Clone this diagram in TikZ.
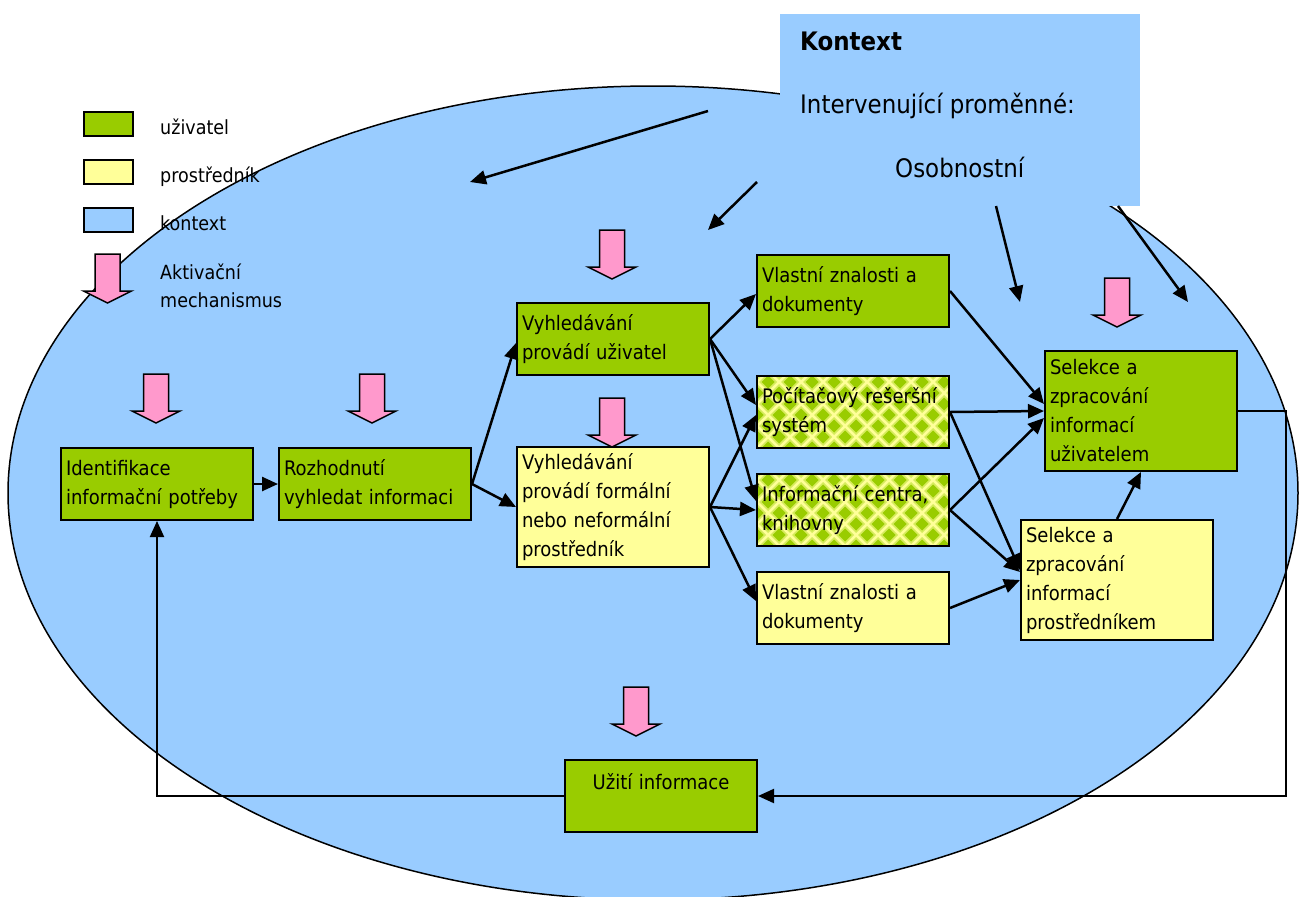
\documentclass[tikz,border=0pt]{standalone}
\usepackage{fontspec}
\setmainfont{DejaVu Sans}[FakeStretch=0.9]
\usetikzlibrary{
  arrows.meta,
  positioning,
  calc
}
\definecolor{ifUser}{HTML}{99CC00}
\definecolor{ifMid}{HTML}{FFFF99}
\definecolor{ifCtx}{HTML}{99CCFF}
\definecolor{ifAct}{HTML}{FF99CC}
\newcommand{\boxfont}{\fontsize{20}{29}\selectfont}
\newcommand{\legfont}{\fontsize{19.5}{28}\selectfont}
\newcommand{\ctxfont}{\fontsize{25.5}{30}\selectfont}
\tikzset{
  ifnode/.style={
    draw, line width=2pt, minimum width=192pt, minimum height=72pt,
    text width=182pt, inner xsep=5pt, inner ysep=4pt, align=left,
    font=\boxfont, anchor=north west
  },
  userbox/.style={ifnode, fill=ifUser},
  midbox/.style={ifnode, fill=ifMid},
  tallbox/.style={minimum height=120pt},
  checkerbox/.style={ifnode, fill=ifMid,
    path picture={
      \foreach \j in {0,...,7}{
        \foreach \i in {0,...,9}{
          \pgfmathsetmacro{\ckx}{\i*22+11-mod(\j,2)*11}
          \pgfmathsetmacro{\cky}{\j*11}
          \fill[ifUser!40!ifMid] ([shift={(\ckx pt,\cky pt)}]path picture bounding box.south west)
            +(-9pt,0pt) -- +(0pt,9pt) -- +(9pt,0pt) -- +(0pt,-9pt) -- cycle;
          \fill[ifUser] ([shift={(\ckx pt,\cky pt)}]path picture bounding box.south west)
            +(-6.5pt,0pt) -- +(0pt,6.5pt) -- +(6.5pt,0pt) -- +(0pt,-6.5pt) -- cycle;
        }
      }
    }
  },
  legbox/.style={draw, line width=2pt, minimum width=49pt, minimum height=24pt,
    inner sep=0pt, anchor=north west},
  legtext/.style={font=\legfont, anchor=base west, inner sep=0pt},
  ctxtext/.style={font=\ctxfont, anchor=base west, inner sep=0pt},
  flow/.style={-{Triangle[length=16pt, width=14pt]}, line width=2.5pt},
  loopline/.style={-{Triangle[length=16pt, width=14pt]}, line width=2pt},
  aktiv/.pic={
    \draw[line width=1.5pt, fill=ifAct] (-12.5,0) -- (12.5,0) -- (12.5,37) -- (24,37)
      -- (0,49) -- (-24,37) -- (-12.5,37) -- cycle;
  }
}

\begin{document}
\begin{tikzpicture}[x=1pt, y=-1pt]
  \useasboundingbox (0,0) rectangle (1299,897);

  % context ellipse and context box
  \draw[line width=1.5pt, fill=ifCtx] (653,493) ellipse [x radius=645, y radius=407];
  \node[fill=ifCtx, minimum width=360pt, minimum height=192pt, inner sep=0pt,
    anchor=north west] (kontext) at (780,14) {};
  \node[ctxtext, font=\ctxfont\bfseries] (ktitle) at (800,50) {Kontext};
  \node[ctxtext] (kvar) at (800,113) {Intervenující proměnné:};
  \node[ctxtext] (kosob) at (895,177) {Osobnostní};

  % legend
  \node[legbox, fill=ifUser] (leguser) at (83,111) {};
  \node[legbox, fill=ifMid] (legmid) at (83,159) {};
  \node[legbox, fill=ifCtx] (legctx) at (83,207) {};
  \pic (legakt) at (107.5,254) {aktiv};
  \node[legtext] (tuser) at (160,134) {uživatel};
  \node[legtext] (tmid) at (160,182) {prostředník};
  \node[legtext] (tctx) at (160,230) {kontext};
  \node[legtext] (takt) at (160,279) {Aktivační};
  \node[legtext] (tmech) at (160,307) {mechanismus};

  % activating mechanisms
  \pic (akt1) at (156,374) {aktiv};
  \pic (akt2) at (372,374) {aktiv};
  \pic (akt3) at (612,230) {aktiv};
  \pic (akt4) at (612,398) {aktiv};
  \pic (akt5) at (1117,278) {aktiv};
  \pic (akt6) at (636,687) {aktiv};

  % process
  \node[userbox] (ident) at (60,447) {Identifikace\\informační potřeby};
  \node[userbox, right=24pt of ident] (rozh) {Rozhodnutí\\vyhledat informaci};
  \node[userbox] (vyhU) at (516,302) {Vyhledávání\\provádí uživatel};
  \node[midbox, tallbox] (vyhF) at (516,446) {Vyhledávání\\provádí formální\\nebo neformální\\prostředník};
  \node[userbox] (vlastU) at (756,254) {Vlastní znalosti a\\dokumenty};
  \node[checkerbox] (poc) at (756,375) {Počítačový rešeršní\\systém};
  \node[checkerbox, below=24pt of poc] (inf) {Informační centra,\\knihovny};
  \node[midbox, below=24pt of inf] (vlastP) {Vlastní znalosti a\\dokumenty};
  \node[userbox, tallbox] (selU) at (1044,350) {Selekce a\\zpracování\\informací\\uživatelem};
  \node[midbox, tallbox] (selP) at (1020,519) {Selekce a\\zpracování\\informací\\prostředníkem};
  \node[userbox, align=center] (uziti) at (564,759) {Užití informace\\\mbox{}};

  % context influences
  \coordinate (c1s) at (708,111);
  \coordinate (c1e) at (470,182);
  \coordinate (c2s) at (757,182);
  \coordinate (c2e) at (708,230);
  \coordinate (c3s) at (996,206);
  \coordinate (c3e) at (1020,302);
  \coordinate (c4s) at (1118,206);
  \coordinate (c4e) at (1188,302);
  \draw[flow] (c1s) -- (c1e);
  \draw[flow] (c2s) -- (c2e);
  \draw[flow] (c3s) -- (c3e);
  \draw[flow] (c4s) -- (c4e);

  % connectors
  \draw[flow] (ident) -- (rozh);
  \draw[flow] (rozh.east) -- ([yshift=-4pt]vyhU.west);
  \draw[flow] (rozh.east) -- (vyhF.west);
  \draw[flow] (vyhU.east) -- ([yshift=-3pt]vlastU.west);
  \draw[flow] (vyhU.east) -- ([yshift=7pt]poc.west);
  \draw[flow] (vyhU.east) -- ([yshift=9pt]inf.west);
  \draw[flow] (vyhF.east) -- ([yshift=-3pt]poc.west);
  \draw[flow] (vyhF.east) -- (inf.west);
  \draw[flow] (vyhF.east) -- ([yshift=7pt]vlastP.west);
  \draw[flow] (vlastU.east) -- ([yshift=7pt]selU.west);
  \draw[flow] (poc.east) -- (selU.west);
  \draw[flow] (inf.east) -- ([yshift=-7pt]selU.west);
  \draw[flow] (poc.east) -- ([yshift=10pt]selP.west);
  \draw[flow] (inf.east) -- ([yshift=8pt]selP.west);
  \draw[flow] (vlastP.east) -- (selP.west);
  \draw[flow] (selP.north) -- (selU.south);

  % feedback loop
  \draw[loopline] (selU.east) -- ++(48pt,0pt) |- (uziti.east);
  \draw[loopline] (uziti.west) -| (ident.south);
\end{tikzpicture}
\end{document}
